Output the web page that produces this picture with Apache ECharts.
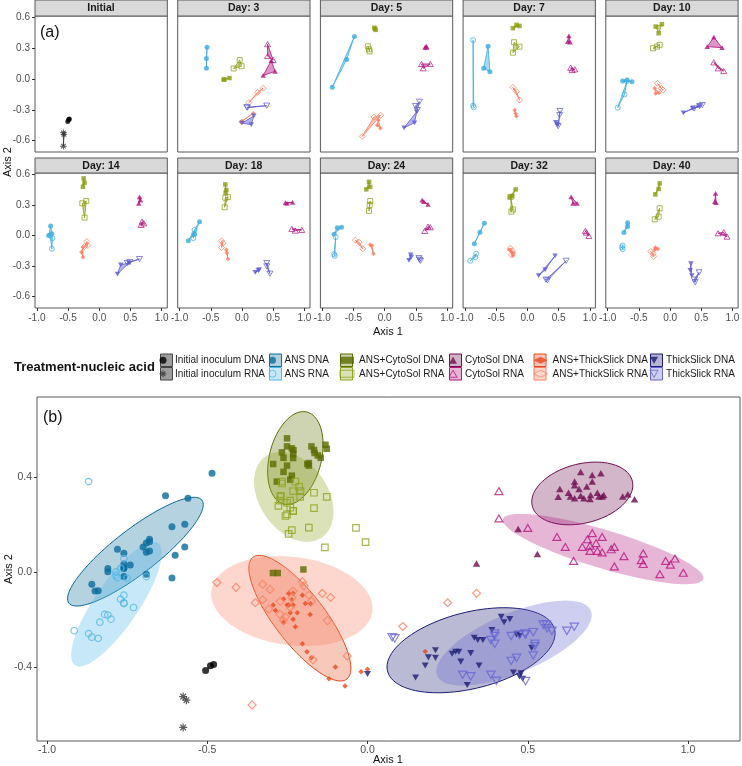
<!DOCTYPE html>
<html>
<head>
<meta charset="utf-8">
<script src="https://cdn.jsdelivr.net/npm/echarts@6/dist/echarts.min.js"></script>
<style>
    * { margin: 0; padding: 0; }
    #container { width: 742px; height: 766px; background: #fff; }
</style>
</head>
<body>
<div id="container"></div>
<script>
// facets
var dayList = [0, 3, 5, 7, 10, 14, 18, 24, 32, 40];
var dayLabels = ['Initial', 'Day: 3', 'Day: 5', 'Day: 7', 'Day: 10', 'Day: 14', 'Day: 18', 'Day: 24', 'Day: 32', 'Day: 40'];
var groupNames = ['Initial inoculum DNA', 'Initial inoculum RNA', 'ANS DNA', 'ANS RNA',
    'ANS+CytoSol DNA', 'ANS+CytoSol RNA', 'CytoSol DNA', 'CytoSol RNA',
    'ANS+ThickSlick DNA', 'ANS+ThickSlick RNA', 'ThickSlick DNA', 'ThickSlick RNA'];
var ticksX = [-1, -0.5, 0, 0.5, 1];
var ticksYa = [-0.6, -0.3, 0, 0.3, 0.6];
var ticksYb = [-0.4, 0, 0.4];

// points: [day, axis1, axis2]
var initDna = [[0, -0.48, -0.39], [0, -0.49, -0.395], [0, -0.505, -0.415]];
var initRna = [[0, -0.575, -0.525], [0, -0.565, -0.54], [0, -0.575, -0.655]];
var ansDna = [
    [3, -0.56, 0.31], [3, -0.57, 0.2], [3, -0.57, 0.105],
    [5, -0.84, -0.08], [5, -0.61, 0.19], [5, -0.485, 0.415],
    [7, -0.63, 0.32], [7, -0.70, 0.105], [7, -0.6, 0.07],
    [10, -0.76, -0.02], [10, -0.69, -0.01], [10, -0.61, -0.026],
    [14, -0.78, 0.095], [14, -0.81, 0.0], [14, -0.76, 0.017],
    [18, -0.86, -0.052], [18, -0.68, 0.137], [18, -0.76, 0.014],
    [24, -0.76, 0.078], [24, -0.69, 0.082], [24, -0.81, 0.014],
    [32, -0.69, 0.121], [32, -0.76, 0.033], [32, -0.85, -0.081],
    [40, -0.68, 0.127], [40, -0.68, 0.088], [40, -0.74, 0.029]
];
var ansRna = [
    [7, -0.87, 0.38], [7, -0.87, -0.26], [7, -0.86, -0.275],
    [10, -0.84, -0.28], [10, -0.73, -0.15], [10, -0.69, -0.02],
    [14, -0.75, -0.026], [14, -0.76, -0.13], [14, -0.785, 0.0],
    [18, -0.76, 0.056], [18, -0.78, -0.025], [18, -0.77, 0.015],
    [24, -0.785, -0.016], [24, -0.81, -0.182], [24, -0.80, -0.199],
    [32, -0.82, -0.179], [32, -0.835, -0.212], [32, -0.915, -0.248],
    [40, -0.76, -0.098], [40, -0.76, -0.133], [40, -0.77, -0.115]
];
var ansCytoDna = [
    [3, -0.295, -0.005], [3, -0.28, -0.005], [3, -0.2, 0.01],
    [5, -0.165, 0.5], [5, -0.155, 0.49], [5, -0.146, 0.48],
    [7, -0.232, 0.496], [7, -0.175, 0.528], [7, -0.127, 0.518],
    [10, -0.231, 0.512], [10, -0.131, 0.535], [10, -0.183, 0.447],
    [14, -0.251, 0.562], [14, -0.262, 0.48], [14, -0.236, 0.52],
    [18, -0.267, 0.503], [18, -0.251, 0.447], [18, -0.262, 0.421],
    [24, -0.251, 0.528], [24, -0.232, 0.479], [24, -0.294, 0.454],
    [32, -0.188, 0.454], [32, -0.283, 0.38], [32, -0.241, 0.388],
    [40, -0.167, 0.513], [40, -0.183, 0.458], [40, -0.236, 0.405]
];
var ansCytoRna = [
    [3, -0.133, 0.103], [3, -0.036, 0.185], [3, -0.006, 0.125],
    [5, -0.27, 0.32], [5, -0.251, 0.29], [5, -0.241, 0.27],
    [7, -0.213, 0.359], [7, -0.127, 0.316], [7, -0.232, 0.257],
    [10, -0.273, 0.3], [10, -0.21, 0.316], [10, -0.167, 0.333],
    [14, -0.272, 0.317], [14, -0.209, 0.34], [14, -0.236, 0.176],
    [18, -0.225, 0.38], [18, -0.267, 0.372], [18, -0.278, 0.278],
    [24, -0.232, 0.34], [24, -0.251, 0.242], [24, -0.241, 0.3],
    [32, -0.267, 0.38], [32, -0.232, 0.257], [32, -0.256, 0.235],
    [40, -0.167, 0.268], [40, -0.183, 0.186], [40, -0.246, 0.16]
];
var cytoDna = [
    [3, 0.47, 0.18], [3, 0.53, 0.075], [3, 0.34, 0.035],
    [5, 0.646, 0.31], [5, 0.675, 0.31], [5, 0.665, 0.32],
    [7, 0.665, 0.42], [7, 0.646, 0.365], [7, 0.684, 0.359],
    [10, 0.701, 0.408], [10, 0.595, 0.316], [10, 0.833, 0.306],
    [14, 0.646, 0.38], [14, 0.633, 0.317], [14, 0.66, 0.349],
    [18, 0.696, 0.323], [18, 0.722, 0.317], [18, 0.812, 0.327],
    [24, 0.6, 0.349], [24, 0.694, 0.307], [24, 0.627, 0.333],
    [32, 0.701, 0.38], [32, 0.732, 0.317], [32, 0.796, 0.317],
    [40, 0.728, 0.415], [40, 0.717, 0.333], [40, 0.737, 0.323]
];
var cytoRna = [
    [3, 0.41, 0.34], [3, 0.41, 0.225], [3, 0.5, 0.185],
    [5, 0.591, 0.147], [5, 0.617, 0.105], [5, 0.732, 0.147],
    [7, 0.694, 0.11], [7, 0.76, 0.095], [7, 0.717, 0.088],
    [10, 0.701, 0.163], [10, 0.77, 0.105], [10, 0.86, 0.078],
    [14, 0.686, 0.137], [14, 0.713, 0.121], [14, 0.67, 0.105],
    [18, 0.8, 0.066], [18, 0.854, 0.049], [18, 0.959, 0.056],
    [24, 0.643, 0.046], [24, 0.694, 0.088], [24, 0.732, 0.082],
    [32, 0.93, 0.046], [32, 0.945, 0.03], [32, 0.985, -0.004],
    [40, 0.77, 0.023], [40, 0.86, 0.033], [40, 0.912, -0.01]
];
var ansThickDna = [
    [3, -0.02, -0.42], [3, 0.0, -0.41], [3, 0.18, -0.335],
    [5, -0.07, -0.48], [5, -0.1, -0.4], [5, -0.12, -0.45],
    [7, -0.203, -0.303], [7, -0.175, -0.362], [7, -0.189, -0.336],
    [10, -0.246, -0.091], [10, -0.232, -0.14], [10, -0.178, -0.134],
    [14, -0.262, -0.114], [14, -0.287, -0.163], [14, -0.262, -0.212],
    [18, -0.241, -0.172], [18, -0.225, -0.231], [18, -0.251, -0.14],
    [24, -0.203, -0.098], [24, -0.179, -0.179], [24, -0.232, -0.09],
    [32, -0.294, -0.14], [32, -0.219, -0.172], [32, -0.232, -0.199],
    [40, -0.236, -0.117], [40, -0.194, -0.133], [40, -0.246, -0.14]
];
var ansThickRna = [
    [3, 0.34, -0.09], [3, 0.25, -0.13], [3, 0.11, -0.23],
    [5, -0.36, -0.56], [5, -0.17, -0.37], [5, -0.063, -0.354],
    [7, -0.232, -0.081], [7, -0.175, -0.124], [7, -0.125, -0.205],
    [10, -0.203, -0.042], [10, -0.141, -0.091], [10, -0.115, -0.108],
    [14, -0.198, -0.059], [14, -0.236, -0.108], [14, -0.183, -0.098],
    [18, -0.327, -0.052], [18, -0.304, -0.074], [18, -0.327, -0.117],
    [24, -0.47, -0.045], [24, -0.41, -0.065], [24, -0.35, -0.13],
    [32, -0.272, -0.124], [32, -0.241, -0.15], [32, -0.256, -0.189],
    [40, -0.308, -0.157], [40, -0.262, -0.205], [40, -0.273, -0.179]
];
var thickDna = [
    [3, 0.0, -0.43], [3, 0.15, -0.445], [3, 0.19, -0.36],
    [5, 0.311, -0.476], [5, 0.479, -0.427], [5, 0.512, -0.32],
    [7, 0.455, -0.424], [7, 0.474, -0.44], [7, 0.484, -0.45],
    [10, 0.212, -0.33], [10, 0.36, -0.287], [10, 0.465, -0.264],
    [14, 0.291, -0.378], [14, 0.344, -0.287], [14, 0.475, -0.27],
    [18, 0.212, -0.362], [18, 0.275, -0.336], [18, 0.264, -0.345],
    [24, 0.417, -0.189], [24, 0.388, -0.245], [24, 0.426, -0.212],
    [32, 0.18, -0.394], [32, 0.285, -0.336], [32, 0.444, -0.199],
    [40, 0.333, -0.277], [40, 0.322, -0.342], [40, 0.348, -0.394]
];
var thickRna = [
    [3, 0.077, -0.275], [3, 0.085, -0.28], [3, 0.396, -0.26],
    [5, 0.558, -0.222], [5, 0.522, -0.303], [5, 0.493, -0.264],
    [7, 0.522, -0.313], [7, 0.517, -0.352], [7, 0.493, -0.46],
    [10, 0.385, -0.287], [10, 0.474, -0.264], [10, 0.517, -0.254],
    [14, 0.448, -0.27], [14, 0.491, -0.26], [14, 0.645, -0.231],
    [18, 0.397, -0.27], [18, 0.397, -0.303], [18, 0.448, -0.375],
    [24, 0.548, -0.222], [24, 0.575, -0.248], [24, 0.56, -0.238],
    [32, 0.297, -0.433], [32, 0.322, -0.44], [32, 0.622, -0.248],
    [40, 0.465, -0.362], [40, 0.385, -0.433], [40, 0.402, -0.459]
];

// confidence ellipses of panel (b), groups 2..11: centre, two conjugate half-axes
var ellipseGroup = [2, 3, 4, 5, 6, 7, 8, 9, 10, 11];
var ellipseCenter = [[-0.724, 0.085], [-0.783, -0.136], [-0.225, 0.479], [-0.230, 0.316], [0.670, 0.330],
    [0.735, 0.096], [-0.211, -0.195], [-0.236, -0.123], [0.323, -0.330], [0.457, -0.300]];
var ellipseAxisU = [[0.2075, 0.2168], [0.1295, 0.2568], [0.0359, 0.1937], [0.1239, -0.0632], [0.1576, 0.0349],
    [0.313, -0.1217], [0.1591, -0.2105], [0.2518, -0.0307], [0.2621, 0.0703], [0.2424, 0.1179]];
var ellipseAxisV = [[0.042, -0.0733], [0.0568, -0.0522], [0.0787, -0.0265], [0, -0.1785], [0, -0.1272],
    [0, -0.0842], [0, -0.16], [0, -0.187], [0, -0.1646], [0, -0.1347]];

var groupData = [initDna, initRna, ansDna, ansRna, ansCytoDna, ansCytoRna, cytoDna, cytoRna,
    ansThickDna, ansThickRna, thickDna, thickRna];

// styles
var FONT = 'Liberation Sans, Arial, sans-serif';
var SYM_UP = 'path://M5,0L10,8.66L0,8.66Z';
var SYM_DOWN = 'path://M0,0L10,0L5,8.66Z';
var SYM_STAR = 'path://M-1.5,-10L1.5,-10L1.5,10L-1.5,10Z M-10,-1.5L10,-1.5L10,1.5L-10,1.5Z ' +
    'M-8.1,-6L-6,-8.1L8.1,6L6,8.1Z M6,-8.1L8.1,-6L-6,8.1L-8.1,6Z';
var symbols = ['circle', SYM_STAR, 'circle', 'circle', 'rect', 'rect', SYM_UP, SYM_UP, 'diamond', 'diamond', SYM_DOWN, SYM_DOWN];
var isOpen = [false, false, false, true, false, true, false, true, false, true, false, true];
var sizeA = [5, 6.5, 5, 5, 4.5, 5, 5.5, 6, 4.5, 6, 5.5, 6];
var sizeB = [7, 8, 7, 6.5, 6.5, 6.5, 7.5, 8, 5.5, 8, 7, 8.5];
var colorA = ['#000000', '#333333', '#3CADDF', '#3CADDF', '#8B9C12', '#8B9C12', '#B3157F', '#B3157F',
    '#FF7B5C', '#FF7B5C', '#5B5BD3', '#5B5BD3'];
var colorB = ['#000000', '#333333', '#0B6B9B', '#52B8E8', '#5C6C00', '#8EA520', '#6D0C4F', '#B5187F',
    '#E8481E', '#FA8262', '#1C1C72', '#6767D4'];
var panelLeft = [35, 177.7, 320.4, 463.1, 605.8];

function fade(hex, a) {
    var n = parseInt(hex.slice(1), 16);
    return 'rgba(' + (n >> 16) + ',' + ((n >> 8) & 255) + ',' + (n & 255) + ',' + a + ')';
}
function pointStyle(g, c, bw) {
    if (isOpen[g]) return {color: 'rgba(0,0,0,0)', borderColor: c, borderWidth: bw};
    return {color: c, borderWidth: 0};
}
function pointsOf(g, day) {
    return groupData[g].filter(function (p) { return day === null || p[0] === day; })
        .map(function (p) { return [p[1], p[2]]; });
}
function fmt(v) { return v.toFixed(1); }

var grids = [], xAxes = [], yAxes = [], series = [], graphics = [];

// panel (a): one small grid per day
dayList.forEach(function (day, p) {
    var row = p < 5 ? 0 : 1, col = p % 5;
    var left = panelLeft[col], top = row ? 173 : 16, h = row ? 135 : 136;
    grids.push({left: left, top: top, width: 132.3, height: h, show: true, backgroundColor: '#fff',
        borderColor: '#595959', borderWidth: 1, outerBoundsMode: 'none'});
    xAxes.push({gridIndex: p, type: 'value', min: -1.03, max: 1.09, position: 'bottom',
        splitLine: {show: false}, axisLine: {show: false, onZero: false},
        axisTick: {show: row === 1, customValues: ticksX, length: 3, lineStyle: {color: '#333'}},
        axisLabel: {show: row === 1, customValues: ticksX, formatter: fmt, fontSize: 10, color: '#4d4d4d', margin: 5, fontFamily: FONT}});
    yAxes.push({gridIndex: p, type: 'value', min: -0.712, max: 0.615, position: 'left',
        splitLine: {show: false}, axisLine: {show: false, onZero: false},
        axisTick: {show: col === 0, customValues: ticksYa, length: 3, lineStyle: {color: '#333'}},
        axisLabel: {show: col === 0, customValues: ticksYa, formatter: fmt, fontSize: 10, color: '#4d4d4d', margin: 5, fontFamily: FONT}});

    // replicate hulls
    var hullGroups = [];
    for (var g = 0; g < 12; g++) {
        if (pointsOf(g, day).length > 1) hullGroups.push(g);
    }
    series.push({
        type: 'custom', xAxisIndex: p, yAxisIndex: p, silent: true, z: 1,
        data: hullGroups.map(function (g) { var q = pointsOf(g, day)[0]; return [q[0], q[1], g]; }),
        renderItem: function (params, api) {
            var g = hullGroups[params.dataIndex];
            var pts = pointsOf(g, day).map(function (q) { return api.coord(q); });
            return {type: 'polygon', shape: {points: pts},
                style: {fill: fade(colorA[g], 0.45), stroke: colorA[g], lineWidth: 0.8}};
        }
    });
    for (var g2 = 0; g2 < 12; g2++) {
        var pts = pointsOf(g2, day);
        if (!pts.length) continue;
        series.push({
            type: 'scatter', name: 'a' + p + '-' + g2, xAxisIndex: p, yAxisIndex: p, silent: true, z: 2,
            symbol: symbols[g2], symbolKeepAspect: true, symbolSize: sizeA[g2],
            itemStyle: pointStyle(g2, colorA[g2], 0.9),
            data: pts
        });
    }

    // facet strip
    var stripTop = row ? 158 : 0;
    graphics.push({type: 'rect', shape: {x: left, y: stripTop, width: 132.3, height: top - stripTop},
        style: {fill: '#D9D9D9', stroke: '#595959', lineWidth: 1}, z: 10});
    graphics.push({type: 'text', x: left + 66, y: stripTop + (top - stripTop) / 2 + 0.5, z: 11,
        style: {text: dayLabels[p], font: 'bold 10.5px ' + FONT, fill: '#1a1a1a', align: 'center', verticalAlign: 'middle'}});
});

// panel (b)
var B = 10;
grids.push({left: 37, top: 397, width: 703, height: 344, show: true, backgroundColor: '#fff',
    borderColor: '#595959', borderWidth: 1, outerBoundsMode: 'none'});
xAxes.push({gridIndex: B, type: 'value', min: -1.031, max: 1.162, position: 'bottom',
    splitLine: {show: false}, axisLine: {show: false, onZero: false},
    axisTick: {customValues: ticksX, length: 3, lineStyle: {color: '#333'}},
    axisLabel: {customValues: ticksX, formatter: fmt, fontSize: 10.5, color: '#4d4d4d', margin: 4, fontFamily: FONT}});
yAxes.push({gridIndex: B, type: 'value', min: -0.712, max: 0.736, position: 'left',
    splitLine: {show: false}, axisLine: {show: false, onZero: false},
    axisTick: {customValues: ticksYb, length: 3, lineStyle: {color: '#333'}},
    axisLabel: {customValues: ticksYb, formatter: fmt, fontSize: 10.5, color: '#4d4d4d', margin: 5, fontFamily: FONT}});

series.push({
    type: 'custom', xAxisIndex: B, yAxisIndex: B, silent: true, z: 1,
    data: ellipseCenter.map(function (c, i) { return [c[0], c[1], i]; }),
    renderItem: function (params, api) {
        var i = params.dataIndex, g = ellipseGroup[i];
        var c = ellipseCenter[i], u = ellipseAxisU[i], v = ellipseAxisV[i];
        var pts = [];
        for (var k = 0; k < 96; k++) {
            var t = k / 96 * Math.PI * 2;
            pts.push(api.coord([c[0] + u[0] * Math.cos(t) + v[0] * Math.sin(t),
                c[1] + u[1] * Math.cos(t) + v[1] * Math.sin(t)]));
        }
        var dna = !isOpen[g];
        return {type: 'polygon', shape: {points: pts},
            style: {fill: fade(colorB[g], dna ? 0.3 : 0.32), stroke: dna ? colorB[g] : null, lineWidth: dna ? 1 : 0}};
    }
});
for (var g3 = 0; g3 < 12; g3++) {
    series.push({
        type: 'scatter', name: groupNames[g3], xAxisIndex: B, yAxisIndex: B, silent: true, z: 2,
        symbol: symbols[g3], symbolKeepAspect: true, symbolSize: sizeB[g3],
        itemStyle: pointStyle(g3, colorB[g3], 1.2),
        data: pointsOf(g3, null)
    });
}

// legend: one two-row column per treatment
var legendCols = [[0, 1], [2, 3], [4, 5], [6, 7], [8, 9], [10, 11]];
var keyLeft = [160.5, 269.5, 340.5, 449.5, 534, 650.5];
var legends = legendCols.map(function (c, k) {
    return {
        orient: 'vertical', left: keyLeft[k] - 1, top: 353.5, padding: 0, itemGap: 0,
        itemWidth: 14, itemHeight: 7, selectedMode: false,
        textStyle: {fontSize: 10, color: '#1a1a1a', fontFamily: FONT, lineHeight: 13.5},
        data: c.map(function (g) {
            return {name: groupNames[g], itemStyle: pointStyle(g, colorB[g], 1)};
        })
    };
});
legendCols.forEach(function (c, k) {
    c.forEach(function (g, r) {
        var fill = g < 2 ? 'rgba(0,0,0,0.38)' : fade(colorB[g], 0.32);
        graphics.push({type: 'rect', z: 0, shape: {x: keyLeft[k], y: 354 + r * 13.5, width: 12, height: 12.5},
            style: {fill: fill, stroke: g < 2 ? '#444' : colorB[g], lineWidth: 1}});
    });
});

// titles and tags
graphics.push({type: 'text', x: 14, y: 367, style: {text: 'Treatment-nucleic acid', font: 'bold 13px ' + FONT, fill: '#111', verticalAlign: 'middle'}});
graphics.push({type: 'text', x: 388, y: 332, style: {text: 'Axis 1', font: '11px ' + FONT, fill: '#111', align: 'center', verticalAlign: 'middle'}});
graphics.push({type: 'text', x: 8, y: 162, rotation: Math.PI / 2, style: {text: 'Axis 2', font: '11px ' + FONT, fill: '#111', align: 'center', verticalAlign: 'middle'}});
graphics.push({type: 'text', x: 388, y: 760, style: {text: 'Axis 1', font: '11px ' + FONT, fill: '#111', align: 'center', verticalAlign: 'middle'}});
graphics.push({type: 'text', x: 9, y: 569, rotation: Math.PI / 2, style: {text: 'Axis 2', font: '11px ' + FONT, fill: '#111', align: 'center', verticalAlign: 'middle'}});
graphics.push({type: 'text', x: 40, y: 33, z: 20, style: {text: '(a)', font: '16px ' + FONT, fill: '#111', verticalAlign: 'middle'}});
graphics.push({type: 'text', x: 43, y: 418, z: 20, style: {text: '(b)', font: '16px ' + FONT, fill: '#111', verticalAlign: 'middle'}});

var chart = echarts.init(document.getElementById('container'));
chart.setOption({
    animation: false,
    backgroundColor: '#fff',
    grid: grids,
    xAxis: xAxes,
    yAxis: yAxes,
    legend: legends,
    series: series,
    graphic: {elements: graphics}
});
</script>
</body>
</html>
